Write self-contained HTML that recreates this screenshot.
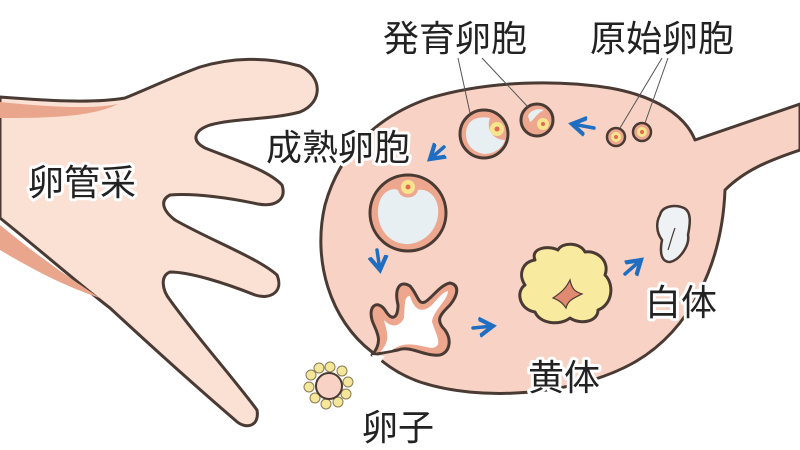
<!DOCTYPE html>
<html><head><meta charset="utf-8"><style>
html,body{margin:0;padding:0;background:#fff;}
svg{display:block}
text{font-family:"Liberation Sans","Noto Sans CJK JP",sans-serif;font-size:36px;fill:#222;stroke:#fff;stroke-width:6px;paint-order:stroke;stroke-linejoin:round}
</style></head><body>
<svg width="800" height="450" viewBox="0 0 800 450" xmlns="http://www.w3.org/2000/svg">
<defs>
<marker id="ah" markerWidth="6" markerHeight="6" refX="4" refY="3" orient="auto" markerUnits="strokeWidth"><path d="M0,0.5 L4,3 L0,5.5" fill="none" stroke="#1f6ec2" stroke-width="1.2"/></marker>
</defs>
<path d="M0,97 C40,100 90,104 125,98 C150,88 170,78 200,67 C230,58 265,56 300,66 C322,76 324,102 300,112 C270,120 235,118 210,125 C195,130 190,140 205,148 C235,160 268,170 282,185 C287,200 275,207 258,204 C230,198 195,193 170,195 C160,200 162,210 175,220 C210,240 258,258 277,275 C284,292 270,300 255,295 C225,283 190,272 170,272 C160,276 162,290 170,300 C195,335 235,380 257,410 C260,427 245,430 235,420 C200,390 150,345 110,308 C80,285 40,250 0,218 Z" fill="#fbe0d4" stroke="#4a3a34" stroke-width="3" stroke-linejoin="round"/>
<path d="M0,102 C40,106 90,110 118,104 C90,118 40,118 0,118 Z" fill="#eaa68c"/>
<path d="M0,225 C40,258 80,285 100,298 C60,285 20,262 0,250 Z" fill="#eaa68c"/>
<path d="M372,352 C330,320 312,260 325,205 C340,150 380,115 430,98 C490,80 560,80 610,88 C655,96 685,115 695,140 L800,104 L800,150 C770,160 745,170 725,190 C722,265 690,330 635,362 C575,396 480,402 420,382 C400,375 385,365 372,352 Z" fill="#f8d3c5" stroke="#4a3a34" stroke-width="3" stroke-linejoin="round"/>
<circle cx="408" cy="213" r="38" fill="#eda78e" stroke="#4a3a34" stroke-width="3"/>
<path d="M378,212 C378,192 392,187 398,190 C400,200 416,200 418,190 C430,188 440,200 438,215 C436,235 418,245 405,244 C390,243 378,230 378,212 Z" fill="#e8eff2"/>
<circle cx="408" cy="187" r="7" fill="#f7e58e"/><circle cx="408" cy="187" r="2.5" fill="#e36a50"/>
<circle cx="484" cy="134" r="24" fill="#eda78e" stroke="#4a3a34" stroke-width="3"/>
<path d="M466,134 C466,118 480,116 490,118 C486,128 492,140 505,140 C502,150 492,154 484,154 C472,152 466,144 466,134 Z" fill="#e8eff2"/>
<circle cx="497" cy="129" r="7" fill="#f7e58e"/><circle cx="497" cy="129" r="2.5" fill="#e36a50"/>
<circle cx="537" cy="120" r="16" fill="#eda78e" stroke="#4a3a34" stroke-width="3"/>
<path d="M528,116 C530,110 538,108 544,110 C536,114 534,120 530,122 Z" fill="#e8eff2"/>
<circle cx="543" cy="124" r="6" fill="#f7e58e"/><circle cx="543" cy="124" r="2" fill="#e36a50"/>
<circle cx="616" cy="137" r="9" fill="#eda78e" stroke="#4a3a34" stroke-width="2.5"/><circle cx="616" cy="137" r="5" fill="#f7e58e"/><circle cx="616" cy="137" r="2" fill="#e36a50"/>
<circle cx="642" cy="132" r="9" fill="#eda78e" stroke="#4a3a34" stroke-width="2.5"/><circle cx="642" cy="132" r="5" fill="#f7e58e"/><circle cx="642" cy="132" r="2" fill="#e36a50"/>
<path d="M458,58 L470,113 M482,58 L528,107 M662,58 L620,128 M668,58 L645,123" stroke="#555" stroke-width="1" fill="none"/>
<path d="M372,355 C385,340 375,330 372,320 C368,305 378,300 385,310 C392,322 398,318 398,305 C394,288 400,280 410,286 C418,295 418,305 425,302 C432,298 440,285 450,283 C460,285 458,295 450,305 C440,315 435,320 445,330 C452,340 450,352 440,355 C425,357 410,345 398,350 Z" fill="#eda78e" stroke="#4a3a34" stroke-width="3" stroke-linejoin="round"/>
<path d="M380,352 C392,340 386,330 384,320 C388,325 398,330 404,318 C405,305 404,296 410,296 C414,310 422,314 432,305 C438,298 443,292 448,291 C448,300 432,312 432,322 C436,335 444,346 432,348 C418,346 406,340 392,350 Z" fill="#fff"/>
<path d="M372,355 L385,356 L376,368 Z" fill="#fff"/>
<path d="M535,260 C530,248 548,245 558,250 C562,242 580,242 585,252 C598,250 610,262 605,275 C615,285 612,305 598,310 C598,322 580,325 570,318 C560,326 540,324 535,312 C520,310 515,292 525,285 C518,275 522,262 535,260 Z" fill="#f8ea9e" stroke="#4a3a34" stroke-width="3" stroke-linejoin="round"/>
<path d="M553,298 C562,292 566,288 570,280 C572,290 576,292 582,294 C574,298 568,300 566,308 C562,302 558,300 553,298 Z" fill="#e08a72" stroke="#4a3a34" stroke-width="1.2"/>
<path d="M660,215 C662,206 675,204 684,208 C692,212 690,225 688,235 C690,245 680,260 670,262 C660,262 660,250 662,240 C656,232 656,222 660,215 Z" fill="#eef2f4" stroke="#4a3a34" stroke-width="2.5"/>
<path d="M675,228 C672,236 670,244 668,250" stroke="#4a3a34" stroke-width="1.2" fill="none"/>
<g fill="#f5e79a" stroke="#8a7a55" stroke-width="1">
<circle cx="330" cy="367" r="5"/><circle cx="342" cy="371" r="5"/><circle cx="348" cy="382" r="5"/><circle cx="346" cy="394" r="5"/><circle cx="338" cy="402" r="5"/><circle cx="326" cy="404" r="5"/><circle cx="315" cy="398" r="5"/><circle cx="309" cy="387" r="5"/><circle cx="311" cy="375" r="5"/><circle cx="319" cy="368" r="5"/>
</g>
<circle cx="329" cy="386" r="13" fill="#f8d3c5" stroke="#4a3a34" stroke-width="2"/>
<g stroke="#1f6ec2" stroke-width="3.5" fill="none" stroke-linecap="round" marker-end="url(#ah)">
<path d="M444,147 L430,159"/>
<path d="M594,128 L572,124"/>
<path d="M377,250 L380,270"/>
<path d="M473,328 L493,326"/>
<path d="M625,274 L641,260"/>
</g>
<text x="383" y="51">発育卵胞</text>
<text x="590" y="51">原始卵胞</text>
<text x="266" y="160">成熟卵胞</text>
<text x="28" y="195">卵管采</text>
<text x="645" y="315">白体</text>
<text x="528" y="390">黄体</text>
<text x="362" y="440">卵子</text>
</svg>
</body></html>
